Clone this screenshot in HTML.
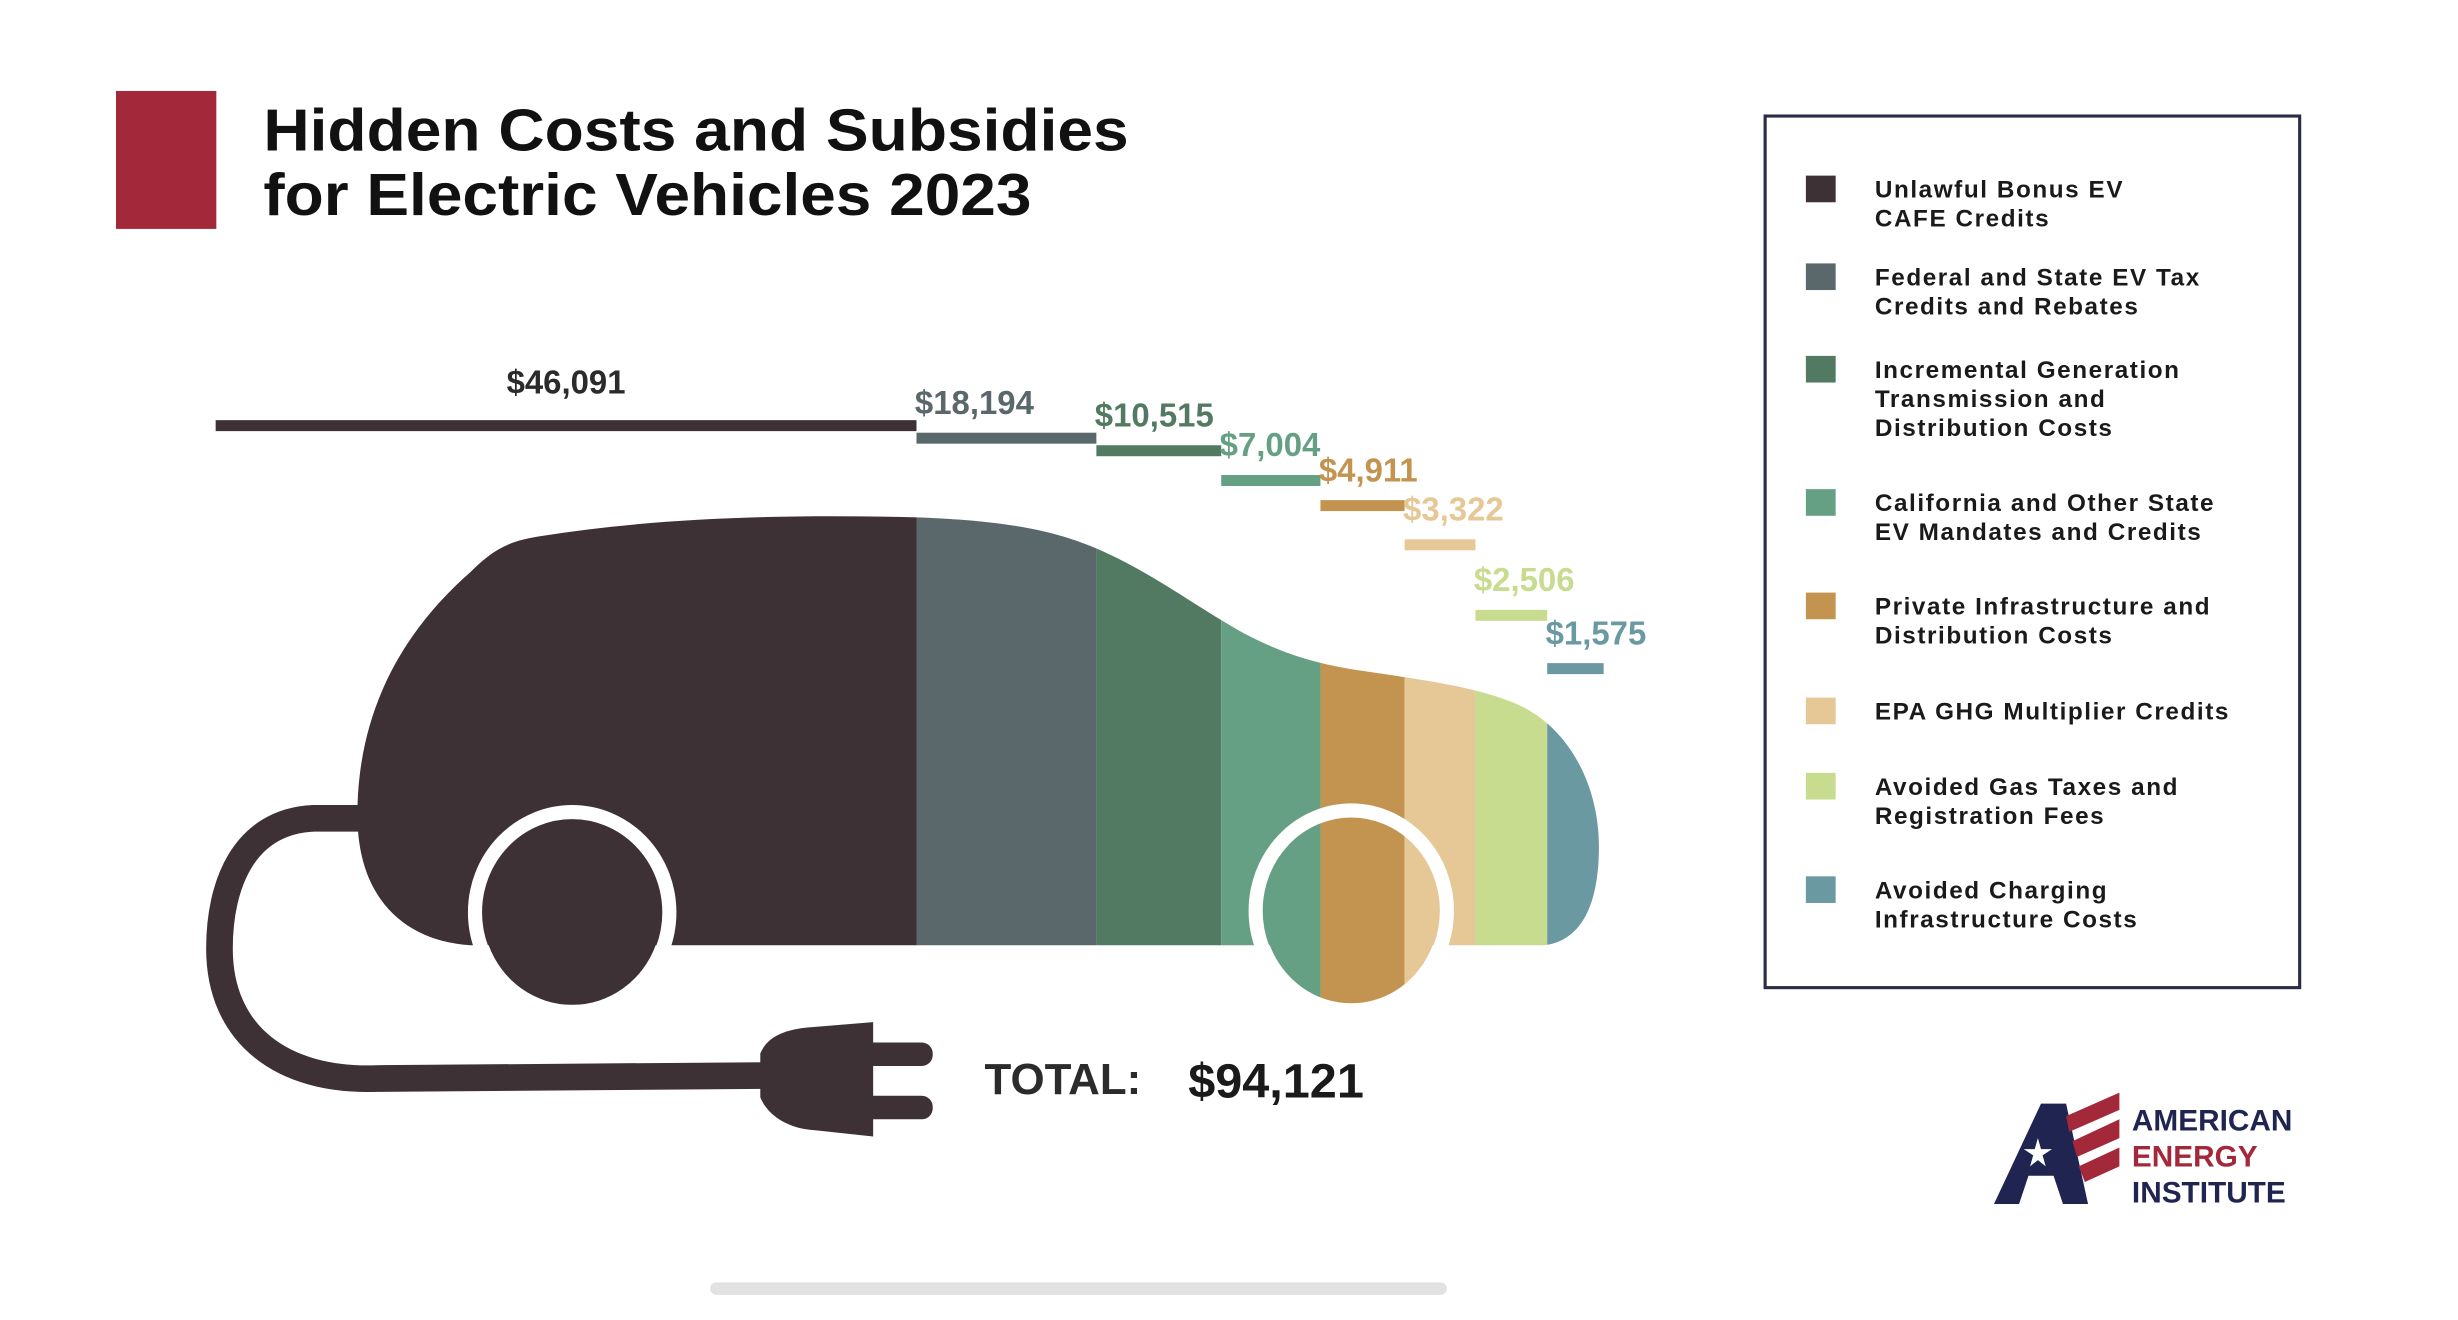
<!DOCTYPE html>
<html><head><meta charset="utf-8"><style>
html,body{margin:0;padding:0;background:#fff;width:2458px;height:1320px;overflow:hidden}
svg{display:block}
text{font-family:"Liberation Sans",sans-serif}
</style></head><body>
<svg id="chart" width="2458" height="1320" viewBox="0 0 1568 842" xmlns="http://www.w3.org/2000/svg">
<defs>
<clipPath id="carClip">
<path d="M300 603 C255 600,228 570,228 520 C228 450,260 400,300 365 C315 350,325 345,345 342 C420 330,500 328,585 330 C640 332,670 338,695 348 C730 362,760 385,790 402 C815 416,840 424,870 428 C910 434,940 438,965 448 C1000 462,1020 500,1020 540 C1020 575,1010 600,985 603 Z"/>
<ellipse cx="365" cy="582" rx="57" ry="59"/>
<ellipse cx="862" cy="581" rx="56" ry="59"/>
</clipPath>
</defs>
<rect x="74" y="58" width="64" height="88" fill="#a3293a"/>
<text x="168" y="96" font-size="38" font-weight="bold" fill="#111" textLength="552" lengthAdjust="spacingAndGlyphs">Hidden Costs and Subsidies</text>
<text x="168" y="137" font-size="38" font-weight="bold" fill="#111" textLength="490" lengthAdjust="spacingAndGlyphs">for Electric Vehicles 2023</text>
<g id="car">
<g id="stripes" clip-path="url(#carClip)"></g>
<ellipse cx="365" cy="582" rx="62" ry="64" fill="none" stroke="#fff" stroke-width="9"/>
<ellipse cx="862" cy="581" rx="61" ry="64" fill="none" stroke="#fff" stroke-width="9"/>
</g>
<g fill="#3d3135">
<path d="M232 522 L200 522 C155 524,140 565,140 605 C140 660,180 690,240 688 L495 686" fill="none" stroke="#3d3135" stroke-width="17"/>
<path d="M485 672 C490 660,503 656,520 655 L557 652 L557 725 L520 721 C503 720,490 712,485 700 Z"/>
<rect x="550" y="665" width="45" height="15" rx="7"/>
<rect x="550" y="699" width="45" height="15" rx="7"/>
</g>
<g id="bars"></g>
<text x="628" y="698" font-size="28" font-weight="bold" fill="#2b2b2b" font-family="Liberation Mono, monospace">TOTAL:</text>
<text x="758" y="700" font-size="31" font-weight="bold" fill="#1a1a1a">$94,121</text>
<rect x="1126" y="74" width="341" height="556" fill="#fff" stroke="#2a2d45" stroke-width="2"/>
<g id="legend"></g>
<g>
<path d="M1272 768 L1302 704 L1318 704 L1332 768 L1316 768 L1310 750 L1294 750 L1288 768 Z" fill="#1f2450"/>
<polygon points="1300,726 1302,733 1309,733 1303,737 1305,744 1300,740 1295,744 1297,737 1291,733 1298,733" fill="#fff"/>
<path d="M1318 712 L1352 697 L1352 708 L1320 722 Z M1322 728 L1352 714 L1352 726 L1325 738 Z M1326 744 L1352 732 L1352 744 L1330 754 Z" fill="#a3293a"/>
<text x="1360" y="721" font-size="19" font-weight="bold" fill="#1f2450">AMERICAN</text>
<text x="1360" y="744" font-size="19" font-weight="bold" fill="#a3293a">ENERGY</text>
<text x="1360" y="767" font-size="19" font-weight="bold" fill="#1f2450">INSTITUTE</text>
</g>
<rect x="453" y="818" width="470" height="8" rx="4" fill="#e2e2e2"/>
</svg>
<script>
const categories = ["Unlawful Bonus EV CAFE Credits","Federal and State EV Tax Credits and Rebates","Incremental Generation Transmission and Distribution Costs","California and Other State EV Mandates and Credits","Private Infrastructure and Distribution Costs","EPA GHG Multiplier Credits","Avoided Gas Taxes and Registration Fees","Avoided Charging Infrastructure Costs"];
const values = [46091,18194,10515,7004,4911,3322,2506,1575];
const valueLabels = ["$46,091","$18,194","$10,515","$7,004","$4,911","$3,322","$2,506","$1,575"];
const legendLines = [["Unlawful Bonus EV","CAFE Credits"],["Federal and State EV Tax","Credits and Rebates"],["Incremental Generation","Transmission and","Distribution Costs"],["California and Other State","EV Mandates and Credits"],["Private Infrastructure and","Distribution Costs"],["EPA GHG Multiplier Credits"],["Avoided Gas Taxes and","Registration Fees"],["Avoided Charging","Infrastructure Costs"]];
const colors = ["#3d3135","#5a686c","#527a62","#66a084","#c39450","#e5c896","#c7dc8f","#6b99a2"];
const barY = [268,276,284,303,319,344,389,423];
const legendY = [121,177,236,321,387,454,502,568];
const NS = "http://www.w3.org/2000/svg";
const xRight = 1023;
// remaining-value (from the right) position scale
function xScale(remaining){ return remaining > 0 ? xRight - (0.717*Math.pow(remaining,0.6) - 23.4) : xRight; }
// linear width scale for the lead bar
function leadWidth(v){ return 0.0097*v; }
const barsG = document.getElementById('bars');
const stripesG = document.getElementById('stripes');
const legendG = document.getElementById('legend');
for (let i=0;i<values.length;i++){
  let rem=0; for(let j=i;j<values.length;j++) rem+=values[j];
  const x1 = xScale(rem-values[i]);
  const x0 = i===0 ? x1 - leadWidth(values[0]) : xScale(rem);
  const bar = document.createElementNS(NS,'rect');
  
  
  bar.setAttribute('x', x0); bar.setAttribute('y', barY[i]);
  bar.setAttribute('width', Math.max(1,x1-x0)); bar.setAttribute('height', 7);
  bar.setAttribute('fill', colors[i]);
  barsG.appendChild(bar);
  const t = document.createElementNS(NS,'text');
  
  
  if(i===0){ t.setAttribute('x',(x0+x1)/2); t.setAttribute('text-anchor','middle'); t.setAttribute('y', barY[i]-17); }
  else { t.setAttribute('x', x0-1); t.setAttribute('y', barY[i]-12); }
  t.setAttribute('font-size', 21); t.setAttribute('font-weight','bold');
  t.setAttribute('fill', i===0 ? '#2b2b2b' : colors[i]);
  t.textContent = valueLabels[i];
  barsG.appendChild(t);
  const s = document.createElementNS(NS,'rect');
  
  
  const sx0 = i===0 ? 0 : x0, sx1 = i===values.length-1 ? 1100 : x1;
  s.setAttribute('x', sx0); s.setAttribute('y', 300);
  s.setAttribute('width', Math.max(0,sx1-sx0)); s.setAttribute('height', 360);
  s.setAttribute('fill', colors[i]);
  stripesG.appendChild(s);
  const sw = document.createElementNS(NS,'rect');
  
  
  sw.setAttribute('x', 1152); sw.setAttribute('y', legendY[i]-9);
  sw.setAttribute('width', 19); sw.setAttribute('height', 17);
  sw.setAttribute('fill', colors[i]);
  legendG.appendChild(sw);
  const lt = document.createElementNS(NS,'text');
  
  
  lt.setAttribute('font-size', 15.5); lt.setAttribute('fill', '#1a1a1a');
  lt.setAttribute('font-weight', 'bold');
  lt.setAttribute('letter-spacing', '1.0');
  legendLines[i].forEach((ln,k)=>{
    const ts = document.createElementNS(NS,'tspan');
    ts.setAttribute('x', 1196); ts.setAttribute('y', legendY[i]+5+k*18.5);
    ts.textContent = ln; lt.appendChild(ts);
  });
  legendG.appendChild(lt);
}
</script>
</body></html>
